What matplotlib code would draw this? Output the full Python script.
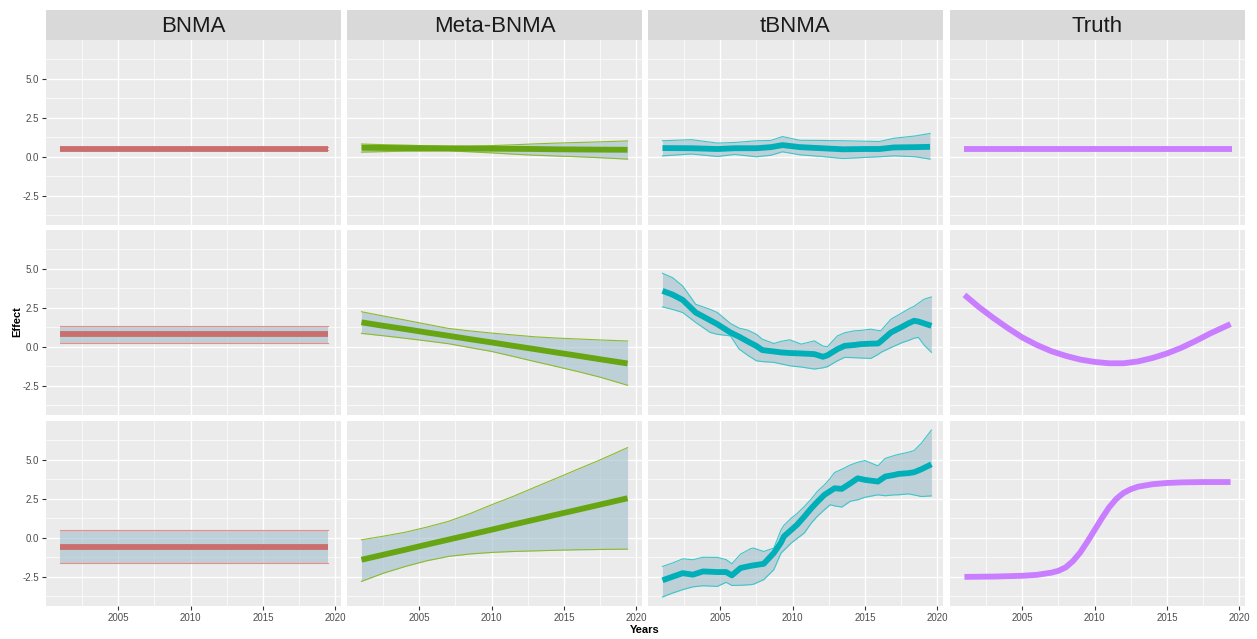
import matplotlib
matplotlib.use('agg')
import matplotlib.pyplot as plt

plt.rcParams['font.family'] = ['Liberation Sans', 'DejaVu Sans']

# panel titles and colours (ggplot default hues)
methods = ['BNMA', 'Meta-BNMA', 'tBNMA', 'Truth']
line_colors = ['#CB6E6E', '#68A512', '#00AFB8', '#C97DFF']
edge_colors = ['#F08A82', '#8DBB2A', '#3CC6CA', '#C97DFF']

# ---- BNMA (constant estimates) ----
bnma_years = [2000.95, 2019.5]
bnma_mean = [0.53, 0.82, -0.58]
bnma_lower = [0.42, 0.26, -1.61]
bnma_upper = [0.66, 1.35, 0.47]

# ---- Meta-BNMA ----
meta_years = [2001, 2002.5, 2004, 2005.5, 2007, 2008.5, 2010, 2011.5, 2013, 2014.5, 2016, 2017.5, 2019.4]
meta_mean = [
    [0.58, 0.57, 0.56, 0.55, 0.54, 0.53, 0.52, 0.51, 0.50, 0.48, 0.47, 0.46, 0.45],
    [1.57, 1.35, 1.14, 0.92, 0.71, 0.49, 0.28, 0.06, -0.15, -0.37, -0.58, -0.80, -1.07],
    [-1.41, -1.09, -0.77, -0.44, -0.12, 0.20, 0.52, 0.85, 1.17, 1.49, 1.81, 2.13, 2.54],
]
meta_upper = [
    [0.82, 0.78, 0.75, 0.71, 0.68, 0.69, 0.72, 0.77, 0.83, 0.88, 0.92, 0.96, 1.02],
    [2.25, 1.98, 1.72, 1.45, 1.18, 1.02, 0.88, 0.76, 0.64, 0.56, 0.50, 0.44, 0.37],
    [-0.13, 0.10, 0.35, 0.68, 1.05, 1.55, 2.12, 2.66, 3.25, 3.83, 4.42, 5.00, 5.79],
]
meta_lower = [
    [0.30, 0.33, 0.36, 0.37, 0.38, 0.32, 0.25, 0.17, 0.10, 0.05, 0.00, -0.06, -0.15],
    [0.86, 0.71, 0.55, 0.38, 0.20, -0.05, -0.30, -0.62, -0.95, -1.27, -1.60, -1.95, -2.47],
    [-2.80, -2.28, -1.85, -1.48, -1.20, -1.04, -0.94, -0.88, -0.84, -0.80, -0.77, -0.75, -0.73],
]

# ---- tBNMA ----
t1_x = [2001.0, 2003.0, 2004.8, 2006.0, 2007.5, 2008.5, 2009.3, 2010.5, 2012.0, 2013.5,
        2015.0, 2016.0, 2017.0, 2018.5, 2019.5]
t1_mean = [0.56, 0.55, 0.50, 0.55, 0.55, 0.62, 0.75, 0.62, 0.55, 0.48, 0.50, 0.50, 0.60, 0.62, 0.64]
t1_upper = [1.03, 1.10, 0.88, 0.92, 1.03, 1.05, 1.30, 1.06, 1.05, 1.03, 1.00, 0.98, 1.19, 1.34, 1.50]
t1_lower = [0.06, 0.18, 0.02, 0.15, 0.00, 0.10, 0.32, 0.13, 0.02, -0.11, -0.04, 0.00, 0.06, 0.00, -0.15]

t2_x = [2001.0, 2001.7, 2002.4, 2003.3, 2004.3, 2004.8, 2005.7, 2006.3, 2006.9, 2007.5, 2007.9,
        2008.7, 2009.2, 2009.8, 2010.6, 2011.5, 2012.1, 2012.4, 2013.1, 2013.6, 2014.3,
        2014.7, 2015.4, 2015.9, 2016.1, 2016.8, 2017.6, 2018.0, 2018.4, 2018.7, 2019.1, 2019.6]
t2_mean = [3.59, 3.35, 3.01, 2.20, 1.70, 1.45, 0.92, 0.65, 0.34, 0.05, -0.21,
           -0.30, -0.36, -0.40, -0.43, -0.47, -0.64, -0.55, -0.15, 0.06, 0.12,
           0.17, 0.20, 0.21, 0.35, 0.92, 1.30, 1.50, 1.67, 1.62, 1.50, 1.35]
t2_upper = [4.72, 4.44, 3.90, 2.73, 2.40, 2.20, 1.50, 1.20, 1.07, 0.80, 0.49,
            0.21, 0.35, 0.45, 0.17, 0.38, 0.05, 0.00, 0.70, 0.90, 1.03,
            1.05, 1.13, 1.05, 1.03, 1.77, 2.20, 2.42, 2.60, 2.80, 3.06, 3.20]
t2_lower = [2.56, 2.40, 2.20, 1.56, 0.92, 0.80, 0.70, -0.15, -0.55, -0.90, -0.95,
            -1.00, -1.10, -1.22, -1.30, -1.43, -1.35, -1.28, -0.90, -0.68, -0.70,
            -0.72, -0.75, -0.50, -0.36, -0.05, 0.28, 0.40, 0.55, 0.60, 0.10, -0.36]

t3_x = [2001.0, 2001.7, 2002.4, 2003.1, 2003.8, 2004.8, 2005.4, 2005.8, 2006.4, 2007.1, 2007.3,
        2008.0, 2008.7, 2009.2, 2009.4, 2009.9, 2010.3, 2010.8, 2011.3, 2011.7, 2012.2,
        2012.6, 2012.9, 2013.4, 2014.0, 2014.5, 2015.0, 2015.9, 2016.4, 2017.1, 2017.3,
        2018.0, 2018.4, 2018.9, 2019.6]
t3_mean = [-2.73, -2.50, -2.27, -2.37, -2.16, -2.20, -2.20, -2.41, -1.94, -1.80, -1.77,
           -1.67, -0.98, -0.30, 0.09, 0.50, 0.83, 1.35, 1.90, 2.30, 2.76,
           3.00, 3.18, 3.14, 3.50, 3.82, 3.72, 3.61, 3.93, 4.05, 4.10,
           4.15, 4.21, 4.40, 4.72]
t3_upper = [-1.84, -1.62, -1.35, -1.41, -1.25, -1.26, -1.40, -1.67, -1.05, -0.70, -0.66,
            -0.88, -0.66, 0.51, 0.80, 1.26, 1.55, 2.00, 2.50, 2.97, 3.40,
            3.82, 4.19, 4.40, 4.68, 4.85, 4.96, 4.62, 5.10, 5.30, 5.35,
            5.49, 5.60, 6.07, 6.92]
t3_lower = [-3.80, -3.55, -3.33, -3.15, -3.08, -3.12, -2.86, -3.06, -3.05, -3.01, -2.98,
            -2.69, -2.05, -0.98, -0.80, -0.34, -0.05, 0.30, 0.95, 1.37, 1.80,
            2.12, 2.05, 1.97, 2.35, 2.44, 2.60, 2.76, 2.70, 2.76, 2.76,
            2.82, 2.75, 2.65, 2.69]

# ---- Truth ----
truth1_x = [2001.0, 2019.5]
truth1_y = [0.52, 0.52]
truth2_x = [2001.0, 2002, 2003, 2004, 2005, 2006, 2007, 2008, 2009, 2010,
            2011, 2012, 2013, 2014, 2015, 2016, 2017, 2018, 2019.4]
truth2_y = [3.33, 2.55, 1.85, 1.20, 0.60, 0.12, -0.28, -0.58, -0.82, -0.97,
            -1.06, -1.06, -0.94, -0.72, -0.43, -0.06, 0.38, 0.86, 1.46]
truth3_x = [2001.0, 2003, 2005, 2006, 2007, 2007.5, 2008, 2008.5, 2009, 2009.5, 2010,
            2010.5, 2011, 2011.5, 2012, 2012.5, 2013, 2014, 2015, 2016, 2017.5, 2019.4]
truth3_y = [-2.51, -2.49, -2.44, -2.38, -2.24, -2.12, -1.90, -1.50, -0.95, -0.25, 0.50,
            1.25, 1.95, 2.50, 2.88, 3.12, 3.28, 3.44, 3.52, 3.56, 3.58, 3.58]

tb_x = [t1_x, t2_x, t3_x]
tb_mean = [t1_mean, t2_mean, t3_mean]
tb_upper = [t1_upper, t2_upper, t3_upper]
tb_lower = [t1_lower, t2_lower, t3_lower]
truth_x = [truth1_x, truth2_x, truth3_x]
truth_y = [truth1_y, truth2_y, truth3_y]

W, H = 1257, 639
fig = plt.figure(figsize=(W / 100, H / 100), dpi=100)
fig.patch.set_facecolor('white')

col_left = [46, 347, 648, 950]
col_w = 295
row_top = [40, 230, 421]
row_h = 185
strip_top = 10

ribbon_fill = '#9FBFCB'

for r in range(3):
    for c in range(4):
        ax = fig.add_axes([col_left[c] / W, 1 - (row_top[r] + row_h) / H, col_w / W, row_h / H])
        ax.set_facecolor('#EBEBEB')
        for s in ax.spines.values():
            s.set_visible(False)
        ax.set_xlim(2000.0, 2020.4)
        ax.set_ylim(-4.38, 7.5)
        ax.set_xticks([2005, 2010, 2015, 2020])
        ax.set_xticks([2002.5, 2007.5, 2012.5, 2017.5], minor=True)
        ax.set_yticks([-2.5, 0, 2.5, 5.0])
        ax.set_yticks([-3.75, -1.25, 1.25, 3.75, 6.25], minor=True)
        ax.grid(which='major', color='white', lw=1.0)
        ax.grid(which='minor', color='white', lw=0.5)
        ax.set_axisbelow(True)
        ax.tick_params(which='minor', length=0)
        ax.tick_params(which='major', length=3, color='#333333', width=0.8,
                       labelsize=7, labelcolor='#4D4D4D', pad=2)
        if c == 0:
            ax.set_yticklabels(['-2.5', '0.0', '2.5', '5.0'])
        else:
            ax.tick_params(axis='y', length=0, labelleft=False)
        if r != 2:
            ax.tick_params(axis='x', length=0, labelbottom=False)

        lc = line_colors[c]
        ec = edge_colors[c]
        if c == 0:
            lo = [bnma_lower[r]] * 2
            hi = [bnma_upper[r]] * 2
            ax.fill_between(bnma_years, lo, hi, color=ribbon_fill, alpha=0.6, lw=0)
            ax.plot(bnma_years, lo, color=ec, lw=0.8)
            ax.plot(bnma_years, hi, color=ec, lw=0.8)
            ax.plot(bnma_years, [bnma_mean[r]] * 2, color=lc, lw=4.2, solid_capstyle='butt')
        elif c == 1:
            ax.fill_between(meta_years, meta_lower[r], meta_upper[r], color=ribbon_fill, alpha=0.6, lw=0)
            ax.plot(meta_years, meta_lower[r], color=ec, lw=0.8)
            ax.plot(meta_years, meta_upper[r], color=ec, lw=0.8)
            ax.plot(meta_years, meta_mean[r], color=lc, lw=4.2, solid_capstyle='butt')
        elif c == 2:
            ax.fill_between(tb_x[r], tb_lower[r], tb_upper[r], color=ribbon_fill, alpha=0.6, lw=0)
            ax.plot(tb_x[r], tb_lower[r], color=ec, lw=0.8)
            ax.plot(tb_x[r], tb_upper[r], color=ec, lw=0.8)
            ax.plot(tb_x[r], tb_mean[r], color=lc, lw=4.2, solid_capstyle='butt')
        else:
            ax.plot(truth_x[r], truth_y[r], color=lc, lw=4.2, solid_capstyle='butt')

        # facet strip
        if r == 0:
            sax = fig.add_axes([col_left[c] / W, 1 - row_top[0] / H, col_w / W, (row_top[0] - strip_top) / H])
            sax.set_facecolor('#D9D9D9')
            sax.set_xticks([])
            sax.set_yticks([])
            for s in sax.spines.values():
                s.set_visible(False)
            sax.text(0.5, 0.45, methods[c], ha='center', va='center', fontsize=16, color='#1A1A1A',
                     transform=sax.transAxes)

fig.text(17 / W, 1 - 322 / H, 'Effect', rotation=90, ha='center', va='center',
         fontsize=8, fontweight='bold')
fig.text(645 / W, 1 - 630 / H, 'Years', ha='center', va='center', fontsize=8, fontweight='bold')

fig.savefig('out.png', dpi=100)
